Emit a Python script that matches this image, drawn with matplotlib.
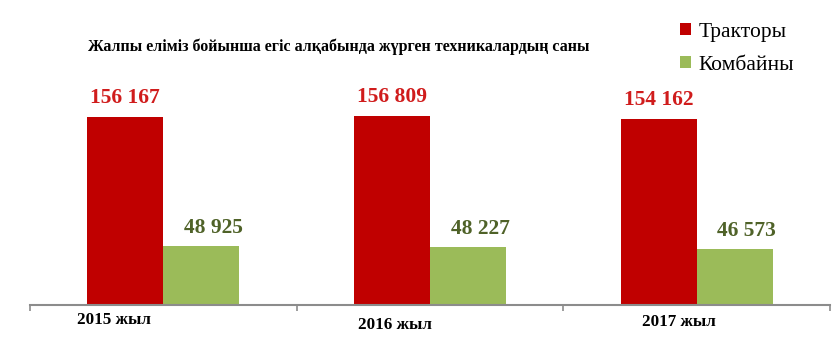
import matplotlib
matplotlib.use('Agg')
import matplotlib.pyplot as plt
import numpy as np

# data
years = ['2015 жыл', '2016 жыл', '2017 жыл']
tractors = [156167, 156809, 154162]
combines = [48925, 48227, 46573]
series_names = ['Тракторы', 'Комбайны']
title = 'Жалпы еліміз бойынша егіс алқабында жүрген техникалардың саны'

RED = '#c00000'
GREEN = '#9bbb59'
RED_TXT = '#d01c1c'
GREEN_TXT = '#4f6228'
GREY = '#8c8c8c'
SERIF = ['Liberation Serif', 'DejaVu Serif']

def fmt(v):
    return f'{v:,}'.replace(',', ' ')

fig = plt.figure(figsize=(8.32, 3.47), dpi=100)
ax = fig.add_axes([30/832, 42/347, 800/832, 305/347])

x = np.arange(len(years))
w = 0.285
b1 = ax.bar(x - w/2, tractors, w, color=RED, label=series_names[0])
b2 = ax.bar(x + w/2, combines, w, color=GREEN, label=series_names[1])
ax.set_xlim(-0.5, 2.5)
ax.set_ylim(0, 253300)

for i in range(len(years)):
    ax.annotate(fmt(tractors[i]), xy=(x[i] - w/2, tractors[i]), xytext=(0, 10),
                textcoords='offset points', ha='center', va='baseline',
                fontsize=15.5, fontweight='bold', color=RED_TXT, family=SERIF)
    ax.annotate(fmt(combines[i]), xy=(x[i] + w/2, combines[i]), xytext=(8.6, 9.4),
                textcoords='offset points', ha='center', va='baseline',
                fontsize=15.5, fontweight='bold', color=GREEN_TXT, family=SERIF)

# category labels sit a little left of centre, at slightly different heights
lab_dx = [-49, -35, -18]   # px
lab_dy = [19.5, 24, 21]    # px below axis
for i, lab in enumerate(years):
    ax.annotate(lab, xy=(x[i], 0), xycoords=('data', 'axes fraction'),
                xytext=(lab_dx[i] / 1.389, -lab_dy[i] / 1.389), textcoords='offset points',
                ha='center', va='baseline', fontsize=12.3, fontweight='bold',
                color='black', family=SERIF)

for s in ['left', 'top', 'right']:
    ax.spines[s].set_visible(False)
ax.spines['bottom'].set_color(GREY)
ax.spines['bottom'].set_linewidth(1.5)
ax.set_xticks([-0.5, 0.5, 1.5, 2.5])
ax.set_xticklabels([])
ax.tick_params(axis='x', direction='out', length=4, width=1.2, color=GREY)
ax.set_yticks([])

fig.text(88/832, 1 - 51/347, title, fontsize=11.5, fontweight='bold',
         family=SERIF, ha='left', va='baseline')

leg = fig.legend(handles=[b1, b2], loc='upper left', bbox_to_anchor=(680/832, 1 - 23/347),
                 frameon=False, prop={'family': SERIF, 'size': 15.5},
                 handlelength=0.5, handleheight=0.5, handletextpad=0.35,
                 labelspacing=0.65, borderpad=0, borderaxespad=0)

fig.savefig('out.png', dpi=100)
